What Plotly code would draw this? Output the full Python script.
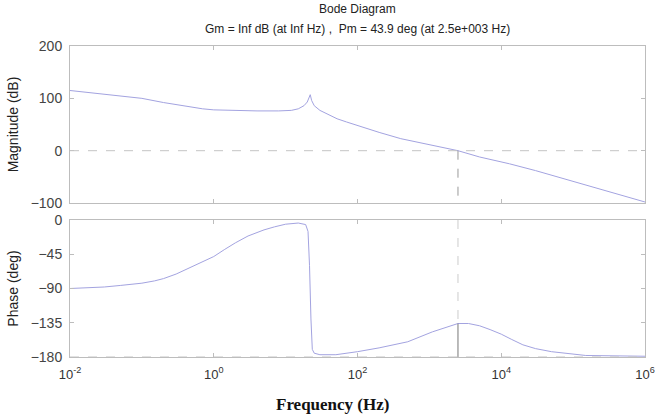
import plotly.graph_objects as go

# ---- data ----
mag_freq = [0.01, 0.02, 0.05, 0.1, 0.2, 0.4, 0.7, 1, 2, 4, 8, 12, 15, 18, 20, 21, 22, 23,
            25, 30, 40, 52, 70, 100, 200, 400, 1000, 2500, 5000, 13000, 30000, 100000,
            300000, 1000000]
mag_db = [115, 110.5, 104, 100, 92, 85, 80, 78, 76.5, 76, 76, 77, 80, 86, 93, 99, 107, 96,
          86, 77, 69, 61, 55, 48, 35, 23, 11, 0, -12, -25, -38, -59, -78, -98]

ph_freq = [0.01, 0.03, 0.05, 0.1, 0.15, 0.2, 0.3, 0.5, 0.7, 1, 1.4, 2, 3, 5, 7, 10, 15, 19,
           20.5, 21.5, 22.5, 23.5, 25, 30, 50, 100, 200, 383, 500, 1100, 2500, 3500, 5000,
           7000, 10000, 14000, 20000, 30000, 50000, 150000, 1000000]
ph_deg = [-90, -88, -86, -83, -80, -77, -71, -61, -55, -48, -39, -30, -21, -13, -9, -5.5,
          -4, -6, -15, -60, -130, -170, -175, -177, -177, -173, -168, -162, -160, -147,
          -136, -136, -139, -144, -150, -157, -164, -169, -173, -178, -179]

title_main = "Bode Diagram"
gm_text = "Inf"
pm_deg = 43.9
pm_freq = 2500
pm_freq_text = "2.5e+003"

mag_ticks = [200, 100, 0, -100]
ph_ticks = [0, -45, -90, -135, -180]
x_tickvals = [1e-2, 1e0, 1e2, 1e4, 1e6]
x_ticktext = ["10<sup>-2</sup>", "10<sup>0</sup>", "10<sup>2</sup>", "10<sup>4</sup>", "10<sup>6</sup>"]

# ---- figure ----
line_col = "#a3a3e0"
frame_col = "#bdbdbd"
font_fam = "Liberation Sans, Arial, sans-serif"

fig = go.Figure()
fig.add_trace(go.Scatter(x=mag_freq, y=mag_db, mode="lines",
                         line=dict(color=line_col, width=1), xaxis="x", yaxis="y",
                         showlegend=False))
fig.add_trace(go.Scatter(x=ph_freq, y=ph_deg, mode="lines",
                         line=dict(color=line_col, width=1), xaxis="x2", yaxis="y2",
                         showlegend=False))

pm_phase = -180 + pm_deg
shapes = [
    dict(type="line", xref="x domain", yref="y", x0=0, x1=1, y0=0, y1=0,
         line=dict(color="#c4c4c4", width=1, dash="dash")),
    dict(type="line", xref="x2 domain", yref="y2", x0=0, x1=1, y0=-180, y1=-180,
         line=dict(color="#c4c4c4", width=1, dash="dash")),
    dict(type="line", xref="x", yref="y", x0=pm_freq, x1=pm_freq, y0=0, y1=mag_ticks[-1],
         line=dict(color="#9a9a9a", width=1, dash="dash")),
    dict(type="line", xref="x2", yref="y2", x0=pm_freq, x1=pm_freq, y0=0, y1=pm_phase,
         line=dict(color="#cccccc", width=1, dash="dash")),
    dict(type="line", xref="x2", yref="y2", x0=pm_freq, x1=pm_freq, y0=pm_phase, y1=-180,
         line=dict(color="#777777", width=1)),
]

axis_common = dict(type="log", range=[-2, 6], showgrid=False, zeroline=False,
                   showline=True, linecolor=frame_col, linewidth=1, mirror="ticks",
                   ticks="inside", ticklen=4, tickcolor=frame_col, automargin=False,
                   tickvals=x_tickvals, ticktext=x_ticktext)

yaxis_common = dict(showgrid=False, zeroline=False, showline=True, linecolor=frame_col,
                    mirror="ticks", ticks="inside", ticklen=4, tickcolor=frame_col,
                    automargin=False, ticklabelstandoff=4,
                    tickfont=dict(size=14, color="#444444"))

fig.update_layout(
    width=655, height=419,
    margin=dict(l=70, r=10, t=46, b=62),
    paper_bgcolor="white", plot_bgcolor="white",
    font=dict(family=font_fam, size=12, color="#333333"),
    shapes=shapes,
    xaxis=dict(axis_common, domain=[0, 1], anchor="y", showticklabels=False),
    xaxis2=dict(axis_common, domain=[0, 1], anchor="y2", showticklabels=True,
                ticklabelstandoff=5, tickfont=dict(size=13, color="#333333")),
    yaxis=dict(yaxis_common, domain=[0.495, 1], range=[-100, 200], tickvals=mag_ticks,
               title=dict(text="Magnitude (dB)", font=dict(size=14, color="#222222"),
                          standoff=8)),
    yaxis2=dict(yaxis_common, domain=[0, 0.4405], range=[-180, 0], tickvals=ph_ticks,
                title=dict(text="Phase (deg)", font=dict(size=14, color="#222222"),
                           standoff=8)),
    annotations=[
        dict(text=title_main, xref="paper", yref="paper", x=0.5, y=1,
             xanchor="center", yanchor="bottom", yshift=28, showarrow=False,
             font=dict(size=12, color="#222222")),
        dict(text=f"Gm = {gm_text} dB (at {gm_text} Hz) ,  Pm = {pm_deg} deg (at {pm_freq_text} Hz)",
             xref="paper", yref="paper", x=0.5, y=1, xanchor="center", yanchor="bottom",
             yshift=8, showarrow=False, font=dict(size=12, color="#222222")),
        dict(text="<b>Frequency (Hz)</b>", xref="paper", yref="paper", x=0.457, y=0,
             xanchor="center", yanchor="top", yshift=-36, showarrow=False,
             font=dict(family="Liberation Serif, Times New Roman, serif", size=17,
                       color="#111111")),
    ],
)

fig.write_html("out.html")
